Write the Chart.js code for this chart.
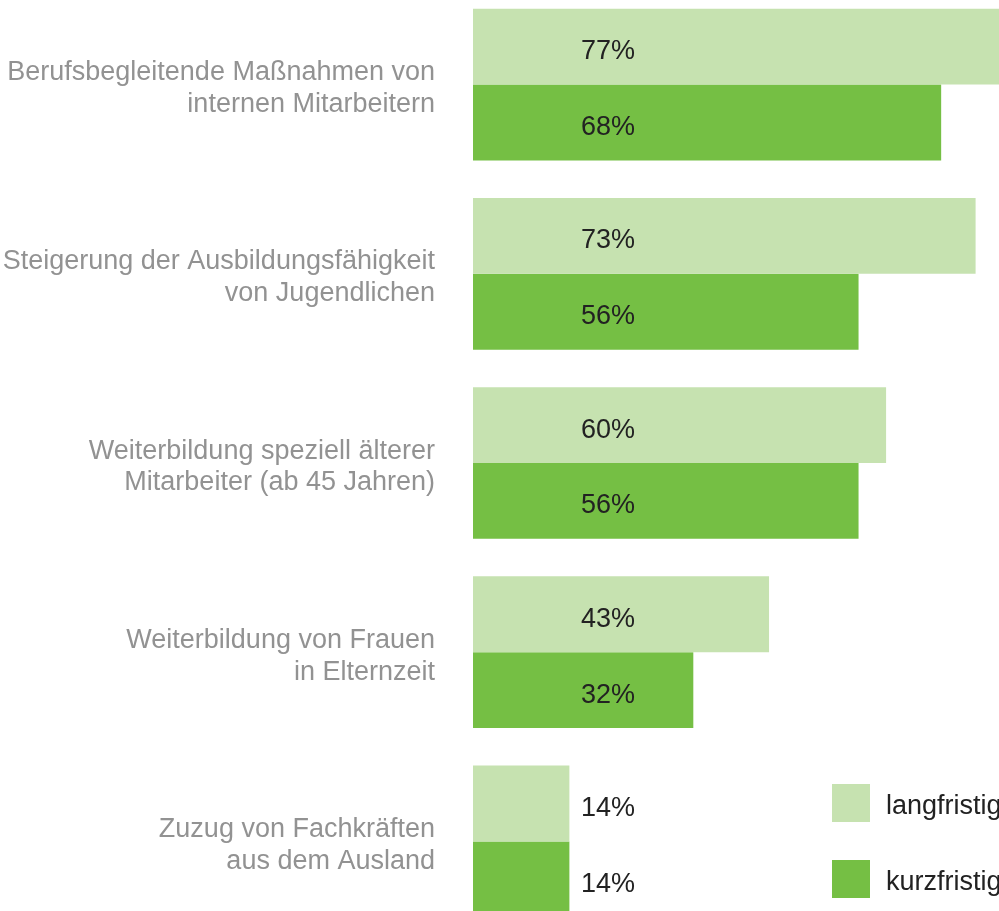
<!DOCTYPE html>
<html>
<head>
<meta charset="utf-8">
<script src="https://cdn.jsdelivr.net/npm/chart.js@4"></script>
<style>
html,body{margin:0;padding:0;background:#fff;overflow:hidden;width:999px;height:911px;}
#wrap{position:absolute;left:0;top:-10px;width:999px;height:946px;}
</style>
</head>
<body>
<div id="wrap"><canvas id="c" width="999" height="946"></canvas></div>
<script>
const categories = [
  ["Berufsbegleitende Maßnahmen von", "internen Mitarbeitern"],
  ["Steigerung der Ausbildungsfähigkeit", "von Jugendlichen"],
  ["Weiterbildung speziell älterer", "Mitarbeiter (ab 45 Jahren)"],
  ["Weiterbildung von Frauen", "in Elternzeit"],
  ["Zuzug von Fachkräften", "aus dem Ausland"]
];
const seriesNames = ["langfristig", "kurzfristig"];
const langfristig = [77, 73, 60, 43, 14];
const kurzfristig = [68, 56, 56, 32, 14];

const LIGHT = "#c6e2b0";
const DARK = "#75bf44";
const FONT = "'Liberation Sans', Arial, Helvetica, sans-serif";

const valueLabels = {
  id: "valueLabels",
  afterDatasetsDraw(chart) {
    const ctx = chart.ctx;
    const area = chart.chartArea;
    ctx.save();
    ctx.font = "27px " + FONT;
    ctx.fillStyle = "#222222";
    ctx.textAlign = "left";
    ctx.textBaseline = "middle";
    chart.data.datasets.forEach((ds, di) => {
      const meta = chart.getDatasetMeta(di);
      meta.data.forEach((bar, i) => {
        ctx.fillText(ds.data[i] + "%", area.left + 108, bar.y + 5);
      });
    });
    ctx.restore();
  }
};

const customLegend = {
  id: "customLegend",
  afterDraw(chart) {
    const ctx = chart.ctx;
    ctx.save();
    ctx.font = "27px " + FONT;
    ctx.textAlign = "left";
    ctx.textBaseline = "middle";
    chart.data.datasets.forEach((ds, di) => {
      const x = 832, y = 794 + di * 76, s = 38;
      ctx.fillStyle = ds.backgroundColor;
      ctx.fillRect(x, y, s, s);
      ctx.fillStyle = "#222222";
      ctx.fillText(ds.label, 886, y + s / 2 + 4);
    });
    ctx.restore();
  }
};

new Chart(document.getElementById("c"), {
  type: "bar",
  data: {
    labels: categories,
    datasets: [
      { label: seriesNames[0], data: langfristig, backgroundColor: LIGHT },
      { label: seriesNames[1], data: kurzfristig, backgroundColor: DARK }
    ]
  },
  options: {
    indexAxis: "y",
    responsive: false,
    animation: false,
    devicePixelRatio: 1,
    layout: { padding: 0 },
    datasets: { bar: { categoryPercentage: 0.802, barPercentage: 1.0, borderWidth: 0 } },
    plugins: { legend: { display: false }, tooltip: { enabled: false } },
    scales: {
      x: { display: false, min: 0, max: 76.4 },
      y: {
        grid: { display: false, drawTicks: false },
        border: { display: false },
        afterFit(scale) {
          scale.width = 473;
          scale.paddingTop = 0;
          scale.paddingBottom = 0;
        },
        ticks: {
          color: "#929292",
          font: { family: FONT, size: 27, lineHeight: 1.18 },
          padding: 38,
          labelOffset: 4
        }
      }
    }
  },
  plugins: [valueLabels, customLegend]
});
</script>
</body>
</html>
